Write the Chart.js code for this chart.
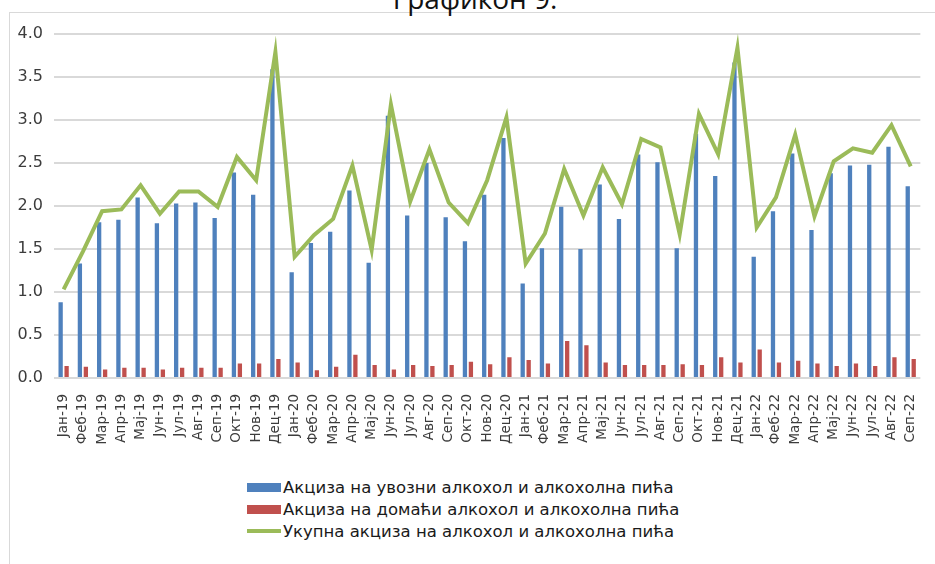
<!DOCTYPE html>
<html>
<head>
<meta charset="utf-8">
<script src="https://cdn.jsdelivr.net/npm/chart.js@4/dist/chart.umd.min.js"></script>
<style>
  html, body { margin:0; padding:0; background:#fff; }
  body { width:935px; height:564px; position:relative; overflow:hidden; font-family:"DejaVu Sans", sans-serif; }
  #frame { position:absolute; left:9px; top:12px; width:940px; height:560px; border:1px solid #d9d9d9; box-sizing:border-box; }
  #title { position:absolute; left:0; width:950px; top:-16px; text-align:center; font:28px/28px "Open Sans", sans-serif; color:#111; }
  #wrap { position:absolute; left:0; top:0; width:935px; height:460px; }
  #legend { position:absolute; left:247px; top:476px; }
  .row { height:22px; display:flex; align-items:center; white-space:nowrap; }
  .sw { width:34px; margin-right:2px; }
  .txt { font-size:16.5px; color:#1a1a1a; }
</style>
</head>
<body>
<div id="frame"></div>
<div id="title">Графикон 9.</div>
<div id="wrap"><canvas id="c"></canvas></div>
<div id="legend"></div>
<script>
// месеци
const months = [
  "Јан-19","Феб-19","Мар-19","Апр-19","Мај-19","Јун-19","Јул-19","Авг-19","Сеп-19","Окт-19","Нов-19","Дец-19",
  "Јан-20","Феб-20","Мар-20","Апр-20","Мај-20","Јун-20","Јул-20","Авг-20","Сеп-20","Окт-20","Нов-20","Дец-20",
  "Јан-21","Феб-21","Мар-21","Апр-21","Мај-21","Јун-21","Јул-21","Авг-21","Сеп-21","Окт-21","Нов-21","Дец-21",
  "Јан-22","Феб-22","Мар-22","Апр-22","Мај-22","Јун-22","Јул-22","Авг-22","Сеп-22"
];

// акциза на увозни алкохол
const importExcise = [
  0.88,1.33,1.81,1.84,2.10,1.80,2.03,2.04,1.86,2.39,2.13,3.59,
  1.23,1.57,1.70,2.18,1.34,3.05,1.89,2.50,1.87,1.59,2.13,2.79,
  1.10,1.51,1.99,1.50,2.25,1.85,2.60,2.51,1.51,2.84,2.35,3.67,
  1.41,1.94,2.61,1.72,2.38,2.47,2.48,2.69,2.23
];

// акциза на домаћи алкохол
const domesticExcise = [
  0.14,0.13,0.10,0.12,0.12,0.10,0.12,0.12,0.12,0.17,0.17,0.22,
  0.18,0.09,0.13,0.27,0.15,0.10,0.15,0.14,0.15,0.19,0.16,0.24,
  0.21,0.17,0.43,0.38,0.18,0.15,0.15,0.15,0.16,0.15,0.24,0.18,
  0.33,0.18,0.20,0.17,0.14,0.17,0.14,0.24,0.22
];

// укупна акциза
const totalExcise = [
  1.03,1.47,1.94,1.96,2.24,1.91,2.17,2.17,1.99,2.57,2.30,3.79,
  1.41,1.66,1.85,2.47,1.49,3.18,2.05,2.66,2.04,1.80,2.30,3.03,
  1.33,1.68,2.43,1.89,2.45,2.02,2.78,2.68,1.67,3.07,2.60,3.84,
  1.75,2.10,2.83,1.88,2.52,2.67,2.62,2.94,2.46
];

const yTicks = [0,0.5,1,1.5,2,2.5,3,3.5,4];

const BLUE = "#4f81bd", RED = "#c0504d", GREEN = "#9bbb59";
const tickColor = "#3c3c3c";

const chart = new Chart(document.getElementById("c"), {
  type: "bar",
  data: {
    labels: months,
    datasets: [
      { type:"line", label:"Укупна акциза на алкохол и алкохолна пића", data: totalExcise,
        borderColor: GREEN, backgroundColor: GREEN, borderWidth: 4, pointRadius: 0, tension: 0, order: 0 },
      { label:"Акциза на увозни алкохол и алкохолна пића", data: importExcise,
        backgroundColor: BLUE, categoryPercentage: 0.62, barPercentage: 0.72, order: 1 },
      { label:"Акциза на домаћи алкохол и алкохолна пића", data: domesticExcise,
        backgroundColor: RED, categoryPercentage: 0.62, barPercentage: 0.72, order: 1 }
    ]
  },
  options: {
    responsive: true,
    maintainAspectRatio: false,
    animation: false,
    layout: { padding: { top: 34, right: 7, left: 0, bottom: 0 } },
    plugins: { legend: { display:false }, tooltip: { enabled:false } },
    scales: {
      x: {
        grid: { display:false },
        border: { display:false },
        ticks: { color: tickColor, font: { family:"DejaVu Sans", size: 13.5 },
                 maxRotation: 90, minRotation: 90, autoSkip: false, padding: 8 },
        afterFit: (s) => { s.height = 82; }
      },
      y: {
        min: 0, max: 4,
        afterBuildTicks: (s) => { s.ticks = yTicks.map(v => ({ value: v })); },
        grid: { color: "#d9d9d9", lineWidth: 2, drawTicks: false },
        border: { display:false },
        ticks: { color: tickColor, font: { family:"DejaVu Sans", size: 16 }, padding: 11,
                 callback: (v) => Number(v).toFixed(1) },
        afterFit: (s) => { s.width = 54; }
      }
    }
  }
});

// легенда, редослед као на слици
const legendOrder = [1, 2, 0];
const lg = document.getElementById("legend");
legendOrder.forEach(i => {
  const ds = chart.data.datasets[i];
  const row = document.createElement("div");
  row.className = "row";
  const sw = document.createElement("div");
  sw.className = "sw";
  sw.style.background = ds.type === "line" ? ds.borderColor : ds.backgroundColor;
  sw.style.height = ds.type === "line" ? "4px" : "9px";
  const t = document.createElement("span");
  t.className = "txt";
  t.textContent = ds.label;
  row.appendChild(sw); row.appendChild(t);
  lg.appendChild(row);
});
</script>
</body>
</html>
